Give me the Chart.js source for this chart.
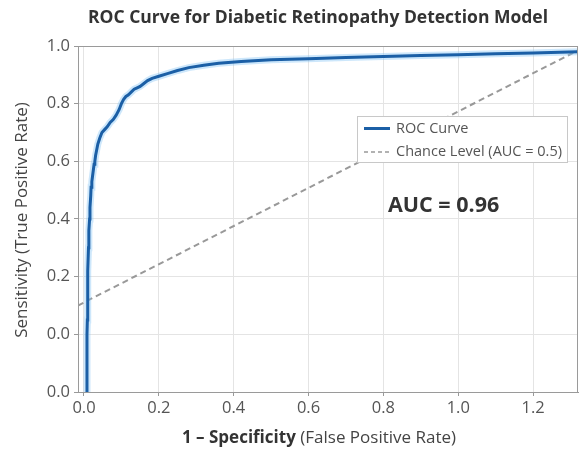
<!DOCTYPE html>
<html><head><meta charset="utf-8">
<script src="https://cdn.jsdelivr.net/npm/chart.js@4"></script>
<style>html,body{margin:0;padding:0;background:#fff}#wrap{width:579px;height:453px}</style>
</head><body><div id="wrap"><canvas id="c" width="579" height="453"></canvas></div>
<script>
const fpr = [0.008,0.008,0.009,0.010,0.010,0.012,0.013,0.015,0.016,0.018,0.019,0.021,0.023,0.025,0.027,0.029,0.031,0.034,0.037,0.042,0.048,0.055,0.062,0.070,0.078,0.086,0.094,0.100,0.106,0.112,0.118,0.126,0.134,0.142,0.150,0.160,0.170,0.182,0.200,0.225,0.250,0.280,0.320,0.360,0.420,0.500,0.600,0.700,0.800,0.900,1.000,1.100,1.200,1.320];
const tpr = [-0.2,0.0,0.05,0.12,0.22,0.30,0.36,0.40,0.44,0.48,0.51,0.53,0.55,0.57,0.59,0.60,0.62,0.64,0.66,0.68,0.70,0.71,0.72,0.735,0.745,0.76,0.78,0.80,0.815,0.825,0.83,0.84,0.85,0.855,0.86,0.87,0.88,0.888,0.895,0.905,0.915,0.925,0.933,0.940,0.946,0.952,0.956,0.960,0.964,0.967,0.970,0.973,0.976,0.98];
const chanceX = [-0.016, 1.32];
const chanceY = [0.10, 0.985];
const xTickValues = [0, 0.2, 0.4, 0.6, 0.8, 1.0, 1.2];
const xTickLabels = ['0.0','0.2','0.4','0.6','0.8','1.0','1.2'];
const yTickValues = [-0.2, 0, 0.2, 0.4, 0.6, 0.8, 1.0];
const yTickLabels = ['0.0','0.0','0.2','0.4','0.6','0.8','1.0'];
const titleText = 'ROC Curve for Diabetic Retinopathy Detection Model';
const xTitleBold = '1 \u2013 Specificity';
const xTitleRest = ' (False Positive Rate)';
const yTitleText = 'Sensitivity (True Positive Rate)';
const legendLabels = ['ROC Curve', 'Chance Level (AUC = 0.5)'];
const aucText = 'AUC = 0.96';

const FONT = "'Open Sans', 'Noto Sans', sans-serif";
const rocPts = fpr.map((x, i) => ({x, y: tpr[i]}));
const chancePts = chanceX.map((x, i) => ({x, y: chanceY[i]}));

function fitText(ctx, text, width) {
  const w = ctx.measureText(text).width;
  return w;
}

const deco = {
  id: 'deco',
  afterDraw(chart) {
    const ctx = chart.ctx, a = chart.chartArea;
    ctx.save();
    // frame
    ctx.strokeStyle = '#9a9a9a'; ctx.lineWidth = 1;
    ctx.strokeRect(a.left + 0.5, a.top + 0.5, a.right - a.left - 1, a.bottom - a.top);
    // title
    ctx.fillStyle = '#333';
    ctx.font = 'bold 17.5px ' + FONT;
    ctx.textAlign = 'center'; ctx.textBaseline = 'middle';
    ctx.fillText(titleText, 318, 18);
    // x title
    ctx.font = 'bold 17px ' + FONT;
    const wb = ctx.measureText(xTitleBold).width;
    ctx.font = '17px ' + FONT;
    const wr = ctx.measureText(xTitleRest).width;
    let sx = 319 - (wb + wr) / 2;
    ctx.textAlign = 'left';
    ctx.font = 'bold 17px ' + FONT; ctx.fillStyle = '#333';
    ctx.fillText(xTitleBold, sx, 438);
    ctx.font = '17px ' + FONT; ctx.fillStyle = '#444';
    ctx.fillText(xTitleRest, sx + wb, 438);
    // y title
    ctx.save();
    ctx.translate(22, 220); ctx.rotate(-Math.PI / 2);
    ctx.textAlign = 'center'; ctx.fillStyle = '#444';
    ctx.font = '17px ' + FONT;
    ctx.fillText(yTitleText, 0, 0);
    ctx.restore();
    // legend box
    ctx.fillStyle = '#fff';
    ctx.fillRect(357, 116, 211, 47);
    ctx.strokeStyle = '#c8c8c8'; ctx.lineWidth = 1;
    ctx.strokeRect(357.5, 116.5, 210, 46);
    ctx.strokeStyle = '#1b5fa6'; ctx.lineWidth = 3;
    ctx.beginPath(); ctx.moveTo(364, 128.5); ctx.lineTo(390, 128.5); ctx.stroke();
    ctx.strokeStyle = '#999'; ctx.lineWidth = 1.5; ctx.setLineDash([4, 3]);
    ctx.beginPath(); ctx.moveTo(364, 152); ctx.lineTo(391, 152); ctx.stroke();
    ctx.setLineDash([]);
    ctx.fillStyle = '#555'; ctx.font = '14.5px ' + FONT;
    ctx.textAlign = 'left';
    ctx.fillText(legendLabels[0], 396, 129);
    ctx.fillText(legendLabels[1], 396, 152);
    // AUC
    ctx.fillStyle = '#333'; ctx.font = 'bold 21.5px ' + FONT;
    ctx.fillText(aucText, 388, 206);
    ctx.restore();
  }
};

new Chart(document.getElementById('c'), {
  type: 'line',
  data: {
    datasets: [
      {label: legendLabels[0], data: rocPts, borderColor: '#1b5fa6', borderWidth: 3, pointRadius: 0, tension: 0, order: 0},
      {label: 'glow', data: rocPts, borderColor: 'rgba(130,195,245,0.4)', borderWidth: 7, pointRadius: 0, tension: 0, order: 1},
      {label: legendLabels[1], data: chancePts, borderColor: '#999', borderWidth: 2, borderDash: [6, 4], pointRadius: 0, tension: 0, order: 2}
    ]
  },
  options: {
    responsive: false, animation: false, devicePixelRatio: 1,
    layout: {padding: {top: 46, right: 1, left: 0, bottom: 0}},
    plugins: {legend: {display: false}, title: {display: false}, tooltip: {enabled: false}},
    scales: {
      x: {
        type: 'linear', min: -0.016, max: 1.32,
        afterBuildTicks: s => { s.ticks = xTickValues.map(v => ({value: v})); },
        afterFit: s => { s.height = 61; },
        ticks: {callback: (v, i) => xTickLabels[i], color: '#555', font: {family: FONT, size: 16.5}, padding: 2, maxRotation: 0, autoSkip: false},
        grid: {color: '#e4e4e4', tickLength: 4, tickColor: '#999'},
        border: {color: '#9a9a9a'}
      },
      y: {
        type: 'linear', min: -0.2, max: 1.0,
        afterBuildTicks: s => { s.ticks = yTickValues.map(v => ({value: v})); },
        afterFit: s => { s.width = 78; },
        ticks: {callback: (v, i) => yTickLabels[i], color: '#555', font: {family: FONT, size: 16.5}, padding: 4, autoSkip: false},
        grid: {color: '#e4e4e4', tickLength: 4, tickColor: '#999'},
        border: {color: '#9a9a9a'}
      }
    }
  },
  plugins: [deco]
});
</script></body></html>
